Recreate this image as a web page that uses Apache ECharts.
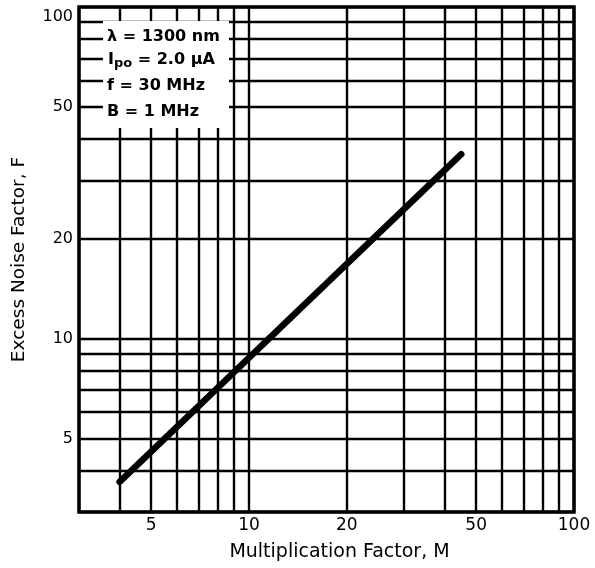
<!DOCTYPE html>
<html>
<head>
<meta charset="utf-8">
<script src="https://cdn.jsdelivr.net/npm/echarts@6/dist/echarts.min.js"></script>
<style>
  html, body { margin: 0; padding: 0; background: #fff; }
  #chart { width: 595px; height: 568px; }
</style>
</head>
<body>
<div id="chart"></div>
<script>
// Excess noise factor F against multiplication factor M (log-log)
const multiplication = [4, 45];
const excessNoise = [3.7, 36];

// Log-paper grid lines and labelled ticks
const xGridValues = [3, 4, 5, 6, 7, 8, 9, 10, 20, 30, 40, 50, 60, 70, 80, 90, 100];
const yGridValues = [3, 4, 5, 6, 7, 8, 9, 10, 20, 30, 40, 50, 60, 70, 80, 90, 100];
const xLabelValues = [5, 10, 20, 50, 100];
const yLabelValues = [5, 10, 20, 50, 100];

// Measurement conditions
const conditions = {
  wavelength: 'λ = 1300 nm',
  currentSymbol: 'I',
  currentSub: 'po',
  currentValue: ' = 2.0 μA',
  frequency: 'f = 30 MHz',
  bandwidth: 'B = 1 MHz'
};

const FONT = '"DejaVu Sans", "Liberation Sans", Arial, sans-serif';
const chart = echarts.init(document.getElementById('chart'), null, { renderer: 'canvas' });

const gridLine = { show: true, lineStyle: { color: '#000', width: 2.4, type: 'solid' } };

chart.setOption({
  backgroundColor: '#fff',
  animation: false,
  grid: {
    left: 79, right: 21, top: 7, bottom: 56,
    outerBoundsMode: 'none', containLabel: false,
    show: true, borderColor: '#000', borderWidth: 3.5, backgroundColor: 'transparent'
  },
  xAxis: {
    type: 'log', logBase: 10, min: 3, max: 100,
    name: 'Multiplication Factor, M',
    nameLocation: 'middle', nameGap: 31,
    nameTextStyle: { fontFamily: FONT, fontSize: 19, color: '#000', padding: [0, 0, 0, 26] },
    axisLine: { show: false },
    axisTick: { show: false, customValues: xGridValues },
    splitLine: gridLine,
    axisLabel: {
      customValues: xLabelValues,
      fontFamily: FONT, fontSize: 17, color: '#000', margin: 5
    }
  },
  yAxis: {
    type: 'log', logBase: 10, min: 3, max: 100,
    name: 'Excess Noise Factor, F',
    nameLocation: 'middle', nameGap: 50, nameRotate: 90,
    nameTextStyle: { fontFamily: FONT, fontSize: 18.5, color: '#000' },
    axisLine: { show: false },
    axisTick: { show: false, customValues: yGridValues },
    splitLine: gridLine,
    axisLabel: {
      customValues: yLabelValues,
      fontFamily: FONT, fontSize: 16, color: '#000', margin: 6,
      formatter: v => (v === 100 ? '{top|100}' : String(v)),
      rich: { top: { fontFamily: FONT, fontSize: 16, color: '#000', padding: [20, 0, 0, 0] } }
    }
  },
  series: [{
    type: 'line',
    data: multiplication.map((m, i) => [m, excessNoise[i]]),
    symbol: 'none',
    lineStyle: { color: '#000', width: 6.5, cap: 'round' },
    z: 5
  }],
  graphic: [
    { type: 'rect', z: 50, shape: { x: 103, y: 21, width: 126, height: 107 }, style: { fill: '#fff' } },
    { type: 'text', z: 51, x: 107, y: 37,
      style: { text: conditions.wavelength, fill: '#000', font: 'bold 16px ' + FONT, verticalAlign: 'middle' } },
    { type: 'text', z: 51, x: 108, y: 60,
      style: {
        text: '{m|' + conditions.currentSymbol + '}{s|' + conditions.currentSub + '}{m|' + conditions.currentValue + '}',
        fill: '#000', verticalAlign: 'middle',
        rich: {
          m: { fontFamily: FONT, fontWeight: 'bold', fontSize: 16, lineHeight: 20, color: '#000' },
          s: { fontFamily: FONT, fontWeight: 'bold', fontSize: 13, lineHeight: 13, color: '#000', verticalAlign: 'bottom' }
        }
      } },
    { type: 'text', z: 51, x: 107, y: 86,
      style: { text: conditions.frequency, fill: '#000', font: 'bold 16px ' + FONT, verticalAlign: 'middle' } },
    { type: 'text', z: 51, x: 107, y: 112,
      style: { text: conditions.bandwidth, fill: '#000', font: 'bold 16px ' + FONT, verticalAlign: 'middle' } }
  ]
});
</script>
</body>
</html>
